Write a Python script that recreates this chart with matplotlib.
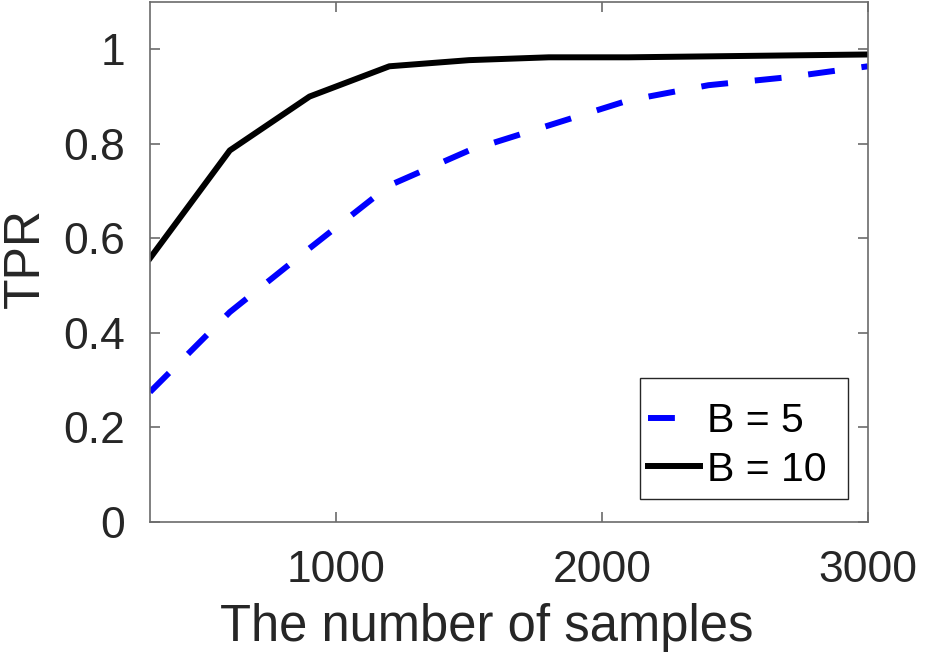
import matplotlib
matplotlib.use("Agg")
import matplotlib.pyplot as plt
from matplotlib.patches import Rectangle

plt.rcParams['font.family'] = ['Liberation Sans', 'DejaVu Sans']

# số mẫu và giá trị TPR
samples = [300, 600, 900, 1200, 1500, 1800, 2100, 2400, 2700, 3000]
tpr_b5 = [0.275, 0.444, 0.579, 0.712, 0.786, 0.839, 0.892, 0.924, 0.941, 0.964]
tpr_b10 = [0.558, 0.786, 0.900, 0.964, 0.977, 0.983, 0.983, 0.985, 0.987, 0.989]
x_ticks = [1000, 2000, 3000]
y_ticks = [0, 0.2, 0.4, 0.6, 0.8, 1]
y_tick_labels = ['0', '0.2', '0.4', '0.6', '0.8', '1']

fig = plt.figure(figsize=(9.25, 6.65), dpi=100)
ax = fig.add_axes([150 / 925, 1 - 522 / 665, 718 / 925, 520 / 665])

line5, = ax.plot(samples, tpr_b5, color='blue', linewidth=4.3, label='B = 5')
line5.set_dashes((4.5, 4.5))
ax.plot(samples, tpr_b10, color='black', linewidth=4.3, label='B = 10')

ax.set_xlim(300, 3000)
ax.set_ylim(0, 1.1)
ax.set_xticks(x_ticks)
ax.set_yticks(y_ticks)
ax.set_yticklabels(y_tick_labels)

axis_gray = '#6b6b6b'
for s in ax.spines.values():
    s.set_color(axis_gray)
    s.set_linewidth(1.2)
ax.tick_params(direction='in', length=7, width=1.2, color=axis_gray,
               top=True, right=True, labelsize=32, labelcolor='#262626')
ax.tick_params(axis='x', pad=20)
ax.tick_params(axis='y', pad=18)

ax.set_xlabel('The number of samples', fontsize=36.5, color='#262626',
              labelpad=9, x=0.469)
ax.set_ylabel('TPR', fontsize=36, color='#262626', labelpad=10, y=0.507)

# khung legend vẽ riêng (kiểu MATLAB, lề không đều)
box = Rectangle((0.6825, 0.0442), 0.2896, 0.2327, transform=ax.transAxes,
                facecolor='white', edgecolor='#262626', linewidth=1.0,
                zorder=4.5)
ax.add_patch(box)
leg = ax.legend(loc='upper left', bbox_to_anchor=(0.6936, 0.231),
                borderaxespad=0, borderpad=0, frameon=False, fontsize=29.5,
                handlelength=1.27, handletextpad=0.17, labelspacing=0.26)

fig.savefig('out.png', dpi=100)
